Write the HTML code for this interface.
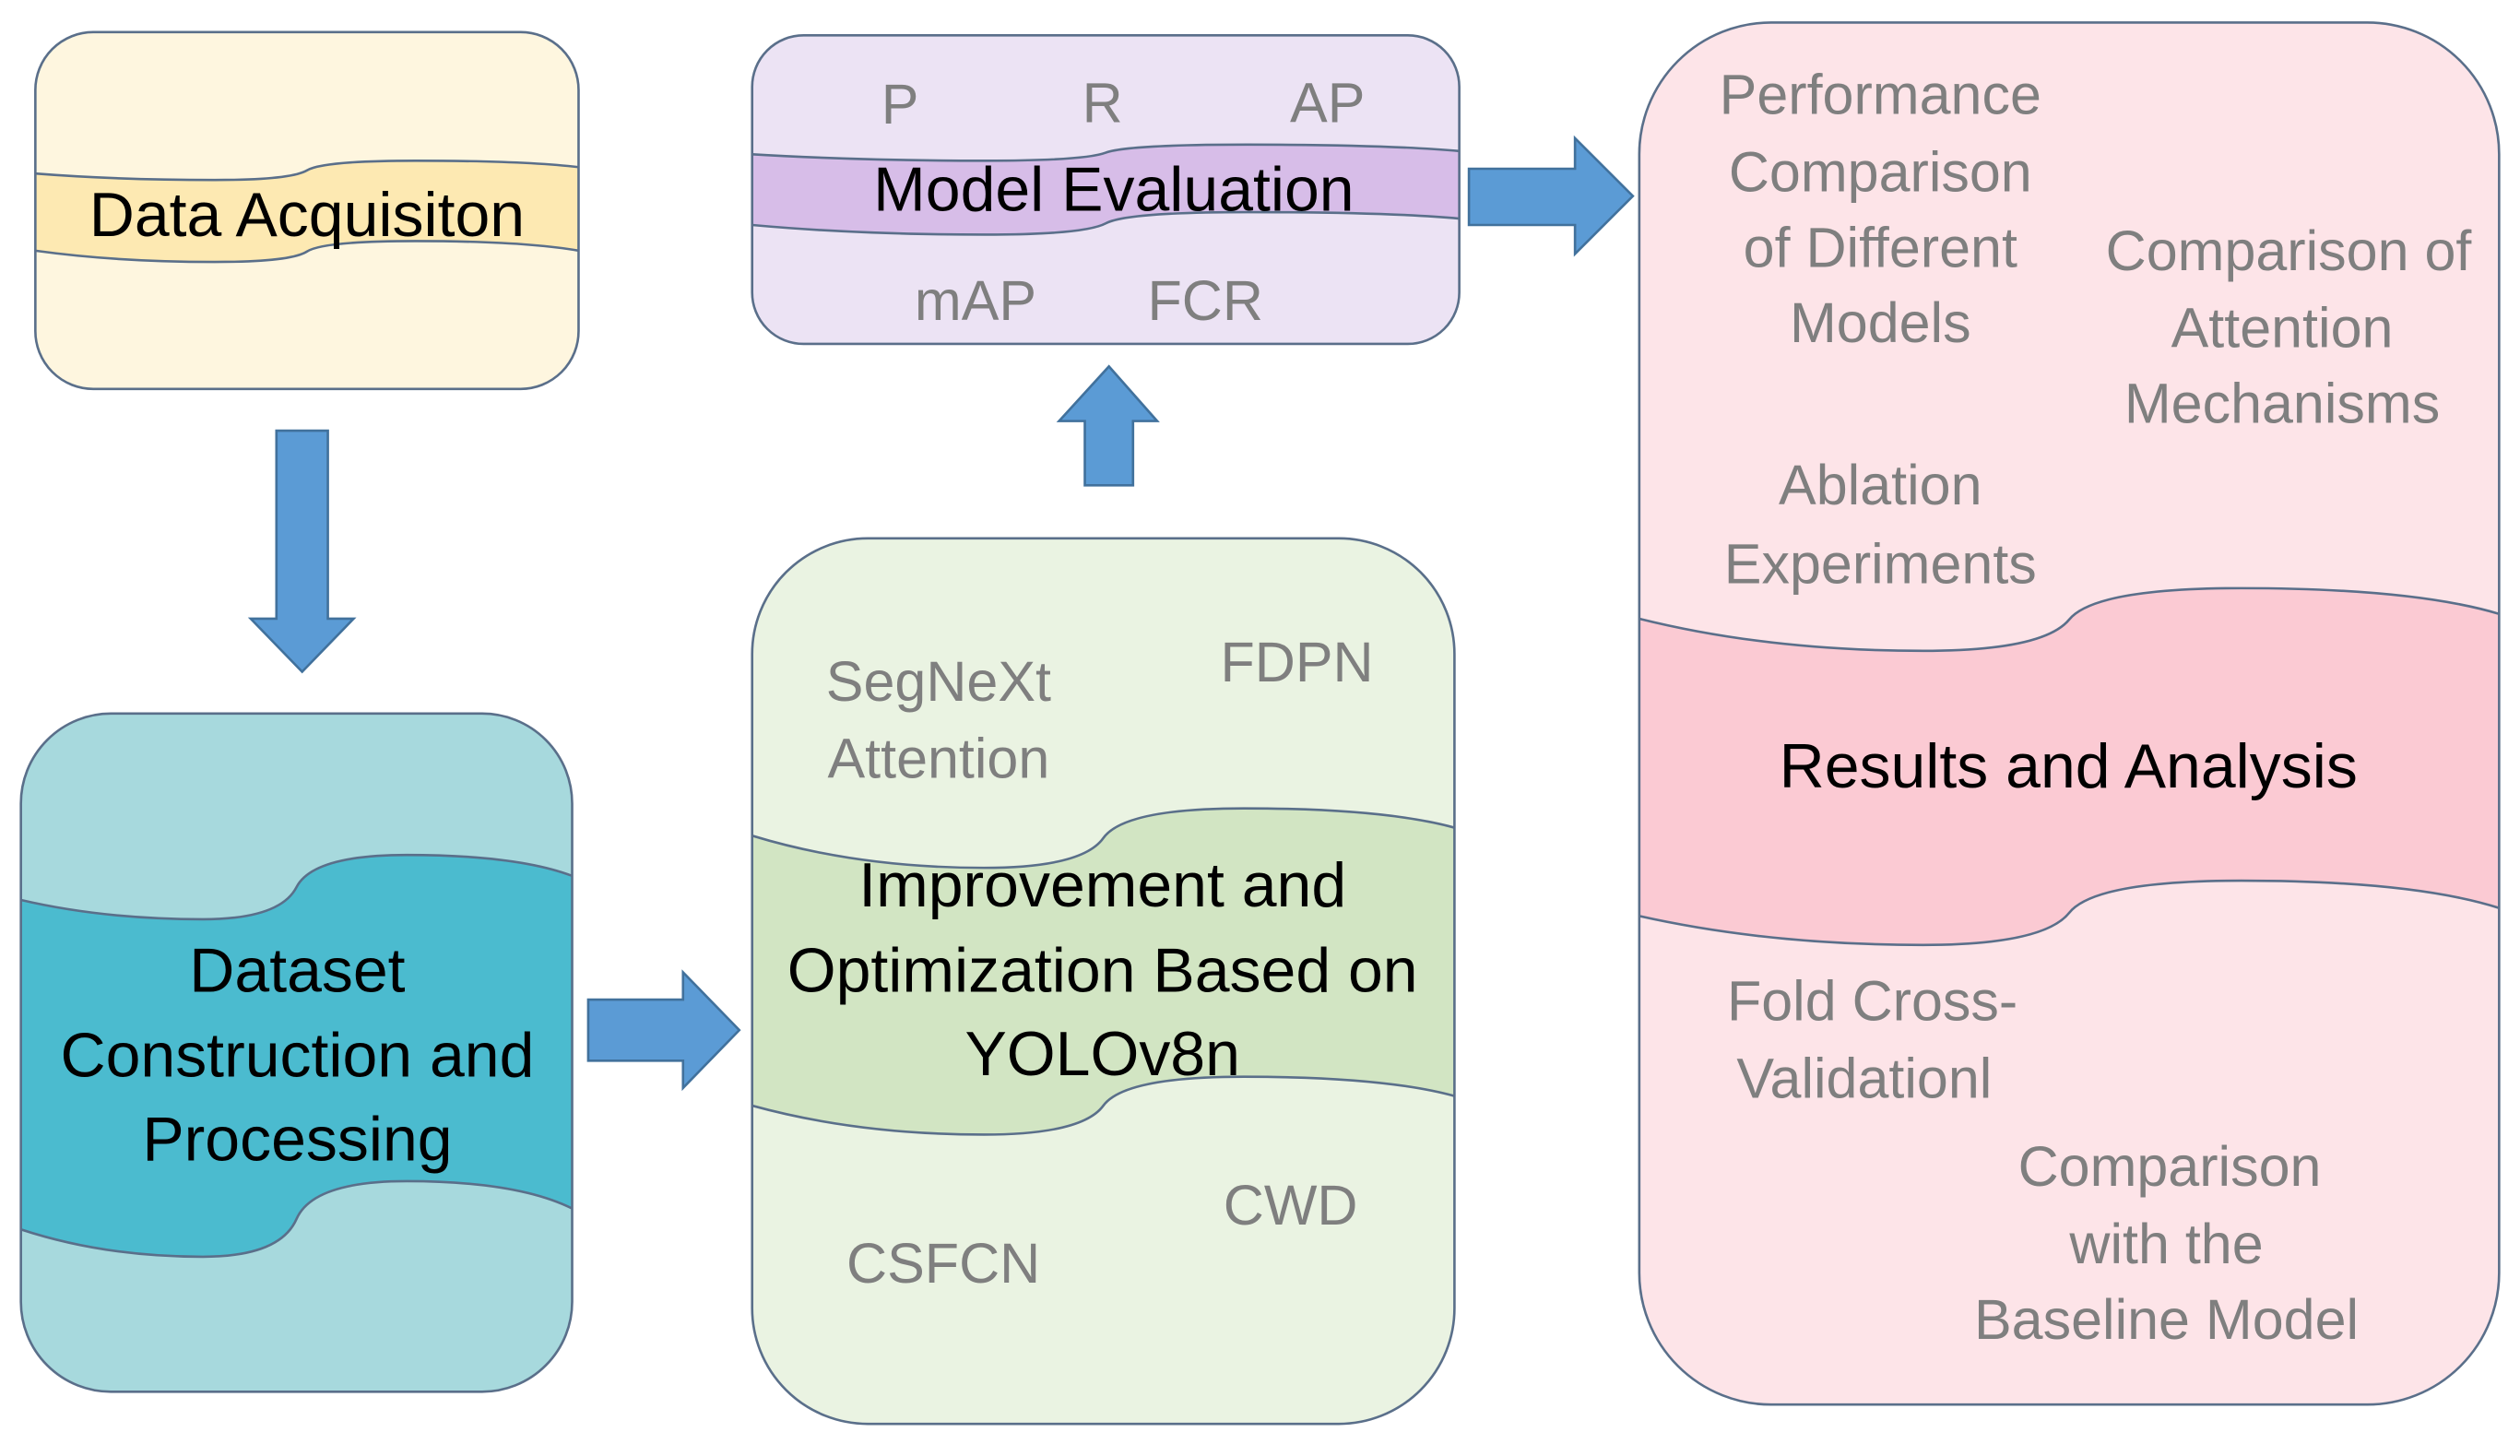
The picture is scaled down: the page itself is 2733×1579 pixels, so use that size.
<!DOCTYPE html>
<html><head><meta charset="utf-8"><style>
html,body{margin:0;padding:0;background:#fff;}
svg{display:block;}
text{font-family:"Liberation Sans",sans-serif;}
</style></head><body>
<svg id="s" width="2733" height="1579" viewBox="0 0 1568 906" preserveAspectRatio="none" xmlns="http://www.w3.org/2000/svg">
<defs>
<clipPath id="cY"><rect x="22" y="20" width="338" height="222" rx="36"/></clipPath>
<clipPath id="cP"><rect x="468" y="22" width="440" height="192" rx="32"/></clipPath>
<clipPath id="cD"><rect x="13" y="444" width="343" height="422" rx="56"/></clipPath>
<clipPath id="cG"><rect x="468" y="335" width="437" height="551" rx="72"/></clipPath>
<clipPath id="cK"><rect x="1020" y="14" width="535" height="860" rx="82"/></clipPath>
</defs>
<g id="g"></g>
</svg>
<script>
function edge(x0,x1,a,b,c,d){
  var w=x1-x0,xm=x0+w*0.5;
  var p=[[x0,a],[x0+0.15*w,b,x0+0.33*w,b],[xm-0.03*w,b,xm,(b+c)/2],[xm+0.03*w,c,xm+0.2*w,c],[x1-0.1*w,c,x1,d]];
  var s="M"+x0+","+a;
  for(var i=1;i<p.length;i++)s+=" Q"+p[i].join(",");
  return s;
}
function revEdge(x0,x1,a,b,c,d){
  var w=x1-x0,xm=x0+w*0.5;
  return " L"+x1+","+d+" Q"+(x1-0.1*w)+","+c+" "+(xm+0.2*w)+","+c+" Q"+(xm+0.03*w)+","+c+" "+xm+","+((b+c)/2)+" Q"+(xm-0.03*w)+","+b+" "+(x0+0.33*w)+","+b+" Q"+(x0+0.15*w)+","+b+" "+x0+","+a+" Z";
}
var out="";
function box(x,y,w,h,r,fill,band,clip,t,bt){
  out+='<rect x="'+x+'" y="'+y+'" width="'+w+'" height="'+h+'" rx="'+r+'" fill="'+fill+'"/>';
  var d=edge(x,x+w,t[0],t[1],t[2],t[3])+revEdge(x,x+w,bt[0],bt[1],bt[2],bt[3]);
  out+='<path d="'+d+'" fill="'+band+'" clip-path="url(#'+clip+')"/>';
  out+='<path d="'+edge(x,x+w,t[0],t[1],t[2],t[3])+'" fill="none" stroke="#5a6f8a" stroke-width="1.5" clip-path="url(#'+clip+')"/>';
  out+='<path d="'+edge(x,x+w,bt[0],bt[1],bt[2],bt[3])+'" fill="none" stroke="#5a6f8a" stroke-width="1.5" clip-path="url(#'+clip+')"/>';
  out+='<rect x="'+x+'" y="'+y+'" width="'+w+'" height="'+h+'" rx="'+r+'" fill="none" stroke="#5a6f8a" stroke-width="1.5"/>';
}
box(22,20,338,222,36,"#fef6df","#fde9b2","cY",[108,112,100,104],[156,163,150,156]);
box(468,22,440,192,32,"#ece3f4","#d7bde8","cP",[96,100,90,94],[140,146,132,136]);
box(13,444,343,422,56,"#a7d9dd","#4bbbcf","cD",[560,572,532,545],[765,782,735,752]);
box(468,335,437,551,72,"#eaf3e2","#d2e5c3","cG",[520,540,503,515],[688,706,670,682]);
box(1020,14,535,860,82,"#fde4e8","#fbcad3","cK",[385,405,366,382],[570,588,548,565]);
function arrow(pts){out+='<polygon points="'+pts+'" fill="#5b9bd5" stroke="#41719c" stroke-width="1.5"/>';}
arrow("172,268 204,268 204,385 220,385 188,418 156,385 172,385");
arrow("366,622 425,622 425,605 460,641 425,677 425,660 366,660");
arrow("675,302 705,302 705,262 720,262 690,228 659,262 675,262");
arrow("914,105 980,105 980,86 1016,122 980,158 980,140 914,140");
function T(x,y,s,txt,col){out+='<text x="'+x+'" y="'+y+'" font-size="'+s+'" fill="'+(col||"#7f7f7f")+'" text-anchor="middle">'+txt+'</text>';}
var B="#000",K=39,G=35;
T(191,147,K,"Data Acquisiton",B);
T(693,131,K,"Model Evaluation",B);
T(560,77,G,"P");T(686,76,G,"R");T(826,76,G,"AP");
T(607,199,G,"mAP");T(750,199,G,"FCR");
T(185,617,K,"Dataset",B);T(185,670,K,"Construction and",B);T(185,722,K,"Processing",B);
T(584,436,G,"SegNeXt");T(584,484,G,"Attention");T(807,424,G,"FDPN");
T(686,564,K,"Improvement and",B);T(686,617,K,"Optimization Based on",B);T(686,669,K,"YOLOv8n",B);
T(803,762,G,"CWD");T(587,798,G,"CSFCN");
T(1170,71,G,"Performance");T(1170,119,G,"Comparison");T(1170,166,G,"of Different");T(1170,213,G,"Models");
T(1424,168,G,"Comparison of");T(1420,216,G,"Attention");T(1420,263,G,"Mechanisms");
T(1170,314,G,"Ablation");T(1170,363,G,"Experiments");
T(1287,490,K,"Results and Analysis",B);
T(1165,635,G,"Fold Cross-");T(1160,683,G,"Validationl");
T(1350,738,G,"Comparison");T(1348,786,G,"with the");T(1348,833,G,"Baseline Model");
document.getElementById("g").innerHTML=out;
</script>
</body></html>
